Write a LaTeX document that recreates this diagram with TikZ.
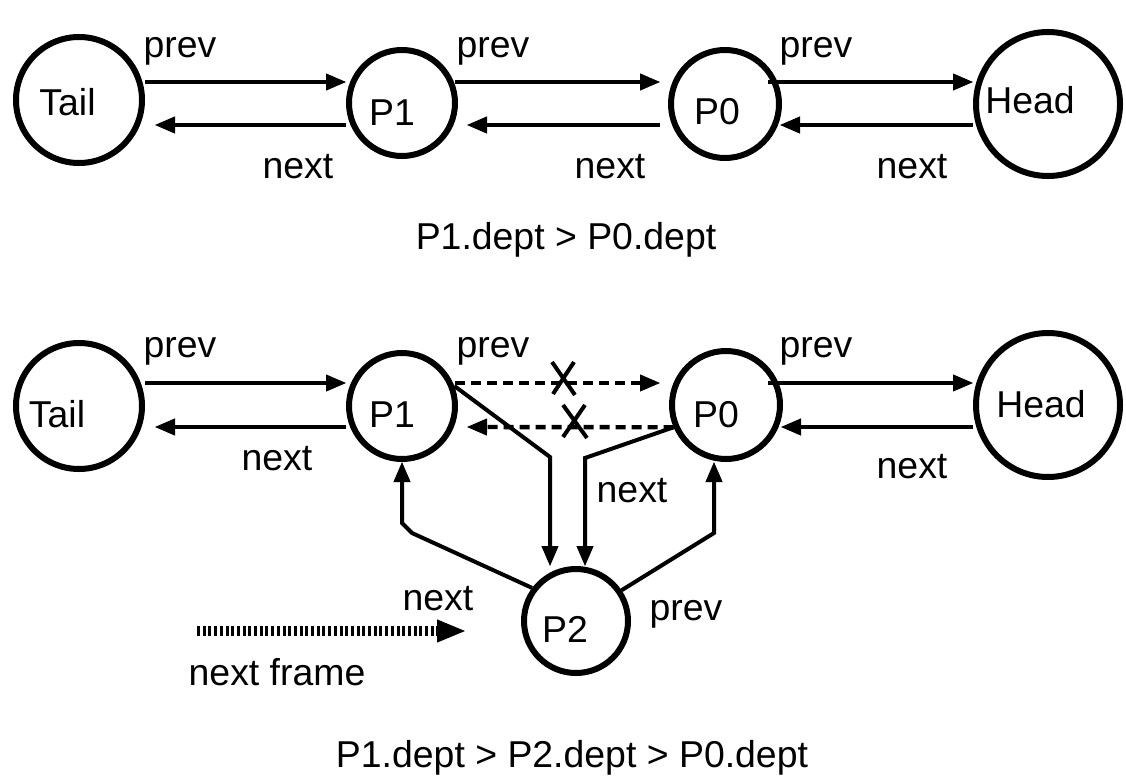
\documentclass[tikz,border=0pt]{standalone}
\usepackage{fontspec}
\setmainfont{Liberation Sans}
\usetikzlibrary{arrows.meta}
\begin{document}
\begin{tikzpicture}[x=1pt,y=-1pt,
  circ/.style={circle, draw, line width=6pt, inner sep=0pt},
  lbl/.style={anchor=base, inner sep=0pt, font=\fontsize{37.4}{44}\selectfont},
  tip/.style={-{Triangle[length=20pt,width=17pt,line width=1pt]}},
  arr/.style={tip, line width=4.4pt},
  conn/.style={tip, line width=4pt},
  dsh/.style={dash pattern=on 10pt off 6pt},
  xmark/.style={line width=4pt},
  dotarr/.style={line width=10pt, dash pattern=on 3pt off 2.7pt, -{Triangle[length=28pt,width=23pt,line width=1pt]}}
]
\useasboundingbox (0,0) rectangle (1126,776);

% ---------- top row ----------
\node[circ, minimum size=126pt] (taila) at (79,100) {};
\node[circ, minimum size=106pt] (p1a) at (402,103) {};
\node[circ, minimum size=108pt] (p0a) at (725,104) {};
\node[circ, minimum size=144pt] (heada) at (1048,104) {};
\node[lbl] (tailat) at (67.5,115) {Tail};
\node[lbl] (p1at) at (392,125) {P1};
\node[lbl] (p0at) at (717,124) {P0};
\node[lbl] (headat) at (1030,113) {Head};

\draw[arr] ([yshift=18pt]taila.east) -- ([yshift=21pt]p1a.west);
\draw[arr] ([yshift=-22pt]p1a.west) -- ([xshift=10pt,yshift=-25pt]taila.east);
\draw[arr] ([xshift=-3pt,yshift=21pt]p1a.east) -- ([xshift=-8pt,yshift=22pt]p0a.west);
\draw[arr] ([xshift=-8pt,yshift=-21pt]p0a.west) -- ([xshift=9pt,yshift=-22pt]p1a.east);
\draw[arr] ([xshift=-14pt,yshift=22pt]p0a.east) -- ([yshift=22pt]heada.west);
\draw[arr] ([yshift=-21pt]heada.west) -- ([xshift=-2pt,yshift=-21pt]p0a.east);

\node[lbl] (pv1a) at (180,57) {prev};
\node[lbl] (pv2a) at (493,57) {prev};
\node[lbl] (pv3a) at (816,57) {prev};
\node[lbl] (nx1a) at (298,178) {next};
\node[lbl] (nx2a) at (610,178) {next};
\node[lbl] (nx3a) at (912,178) {next};

\node[lbl] (eq1) at (566,249) {P1.dept > P0.dept};

% ---------- bottom row ----------
\node[circ, minimum size=126pt] (tailb) at (79,406) {};
\node[circ, minimum size=106pt] (p1b) at (402,406) {};
\node[circ, minimum size=108pt] (p0b) at (726,405) {};
\node[circ, minimum size=144pt] (headb) at (1048,405) {};
\node[circ, minimum size=104pt] (p2) at (576,621) {};
\node[lbl] (tailbt) at (57,427) {Tail};
\node[lbl] (p1bt) at (392,427) {P1};
\node[lbl] (p0bt) at (716,427) {P0};
\node[lbl] (headbt) at (1041,417) {Head};
\node[lbl] (p2t) at (565,642) {P2};

\draw[arr] ([yshift=23pt]tailb.east) -- ([yshift=23pt]p1b.west);
\draw[arr] ([yshift=-21pt]p1b.west) -- ([xshift=10pt,yshift=-21pt]tailb.east);
\draw[arr,dsh] ([xshift=-3pt,yshift=23pt]p1b.east) -- ([xshift=-9pt,yshift=22pt]p0b.west);
\draw[arr,dsh] (p0b.203) -- ([xshift=9pt,yshift=-21pt]p1b.east);
\draw[arr] ([xshift=-15pt,yshift=22pt]p0b.east) -- ([yshift=22pt]headb.west);
\draw[arr] ([yshift=-22pt]headb.west) -- ([xshift=-2pt,yshift=-22pt]p0b.east);

% crosses on removed links
\draw[xmark] (552,362) -- (575,395) (574,362) -- (553,394);
\draw[xmark] (563,405) -- (587,438) (585,405) -- (563,437);

% links through P2
\draw[conn] (p1b.21) -- ([xshift=-26pt,yshift=109pt]p2.north) -- ([xshift=-26pt]p2.north);
\draw[conn] (p0b.203) -- ([xshift=9pt,yshift=108pt]p2.north) -- ([xshift=9pt]p2.north);
\draw[conn] (p2.143) -- ([xshift=10pt,yshift=-71pt]p1b.south) -- ([yshift=-61pt]p1b.south) -- (p1b.south);
\draw[conn] (p2.34) -- ([xshift=-12pt,yshift=-71pt]p0b.south) -- ([xshift=-12pt]p0b.south);

\node[lbl] (pv1b) at (180,357) {prev};
\node[lbl] (pv2b) at (493,357) {prev};
\node[lbl] (pv3b) at (816,357) {prev};
\node[lbl] (nx1b) at (277,470) {next};
\node[lbl] (nx3b) at (912,478) {next};
\node[lbl] (nx2b) at (632,502) {next};
\node[lbl] (pv4b) at (686,620) {prev};

% next frame arrow
\coordinate (nfs) at (197,631);
\coordinate (nfe) at (465,631);
\draw[dotarr] (nfs) -- (nfe);
\node[lbl] (nxf) at (438,610) {next};
\node[lbl] (nfl) at (277,685) {next frame};

\node[lbl] (eq2) at (572,767) {P1.dept > P2.dept > P0.dept};
\end{tikzpicture}
\end{document}
